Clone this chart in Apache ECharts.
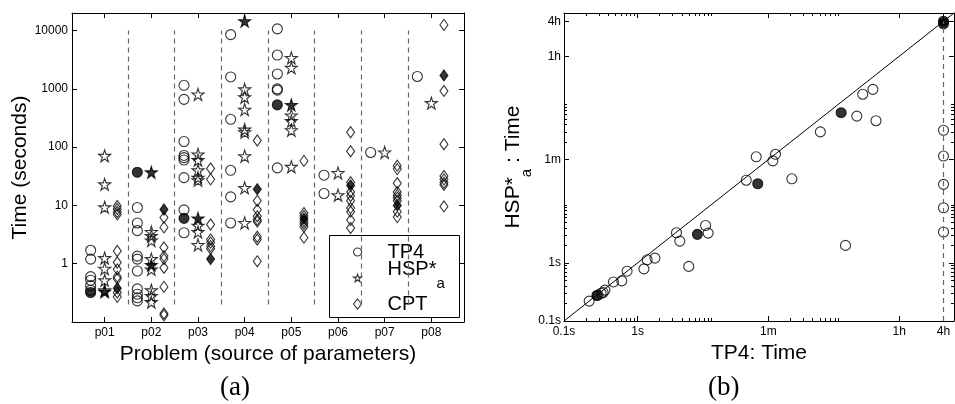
<!DOCTYPE html>
<html>
<head>
<meta charset="utf-8">
<script src="https://cdn.jsdelivr.net/npm/echarts@6/dist/echarts.min.js"></script>
<style>
  html, body { margin: 0; padding: 0; background: #fff; }
  #chart { width: 955px; height: 404px; }
</style>
</head>
<body>
<div id="chart"></div>
<script>
// ---- panel (a): run times per problem, open = all runs, filled = best run ----
const problems = ['p01', 'p02', 'p03', 'p04', 'p05', 'p06', 'p07', 'p08'];

const tp4Open = [
  [1.7, 1.2, 0.6, 0.52, 0.42, 0.35],
  [9.2, 5.0, 3.7, 1.35, 1.2, 0.75, 0.37, 0.3, 0.26, 0.23],
  [1150, 660, 125, 72, 66, 60, 30, 8.4, 3.4],
  [8500, 1600, 300, 40, 14, 5],
  [10700, 3800, 1800, 1000, 950, 44],
  [33, 16],
  [81],
  [1630]
];
const tp4Filled = [[0.32], [37], [6.0], [], [530], [], [], []];

const hspOpen = [
  [71, 23, 9.3, 1.25, 0.82, 0.52, 0.35],
  [3.5, 3.0, 2.5, 1.2, 0.8, 0.35, 0.28, 0.22],
  [800, 75, 60, 40, 30, 27, 4.5, 3.5, 2.1],
  [980, 720, 440, 200, 180, 70, 20, 5],
  [3400, 2300, 350, 280, 195, 46],
  [36, 15],
  [81],
  [570]
];
const hspFilled = [[0.33], [37, 0.95], [6.0], [14500], [530], [], [], []];

const cptOpen = [
  [9.8, 8.7, 7.7, 7.0, 1.65, 1.05, 0.8, 0.6, 0.55, 0.32, 0.27],
  [6.2, 4.2, 1.9, 1.35, 1.2, 0.85, 0.4, 0.14, 0.13],
  [43, 28, 4.7, 2.6, 2.3, 2.0, 1.8],
  [130, 12, 8.4, 6.5, 5.7, 5.3, 2.9, 2.6, 1.1],
  [58, 7.4, 6.6, 5.3, 4.8, 4.3, 2.8],
  [180, 85, 25, 17, 14.5, 12, 9, 7.8, 5.6, 4.1],
  [48, 42, 24, 17, 15, 13.5, 12, 7.8, 6.3],
  [12500, 920, 112, 32, 28, 24.5, 22.5, 9.6]
];
const cptFilled = [[0.38], [8.5], [1.2], [19], [5.9], [22], [10], [1700]];

const leftTickValues = [1, 10, 100, 1000, 10000];
const separatorRange = [0.2, 10000];

// ---- panel (b): TP4 time vs HSP*a time (seconds) ----
const tp4TimeOpen = [0.22, 0.29, 0.32, 0.34, 0.36, 0.47, 0.61, 0.72, 1.22, 1.35, 1.72, 3.38, 3.75, 4.96, 8.4, 9.1,
  30, 41, 69, 75, 125, 305, 670, 955, 1150, 1580, 1740, 14400, 14400, 14400, 14400, 14400];
const hspTimeOpen = [0.22, 0.28, 0.30, 0.31, 0.34, 0.47, 0.49, 0.72, 0.79, 1.13, 1.21, 3.3, 2.37, 0.87, 4.4, 3.26,
  26.5, 67, 57, 74, 28, 180, 2.0, 336, 800, 970, 280, 192, 69, 22.5, 8.9, 3.4];
const tp4TimeFilled = [0.28, 6.5, 43, 585, 14400, 14400];
const hspTimeFilled = [0.275, 3.1, 23, 385, 14400, 13000];

const timeLimit = 14400;
const timeTickValues = [0.1, 1, 60, 3600, 14400];
const timeTickLabels = ['0.1s', '1s', '1m', '1h', '4h'];
const timeMinorTicks = [0.2, 0.3, 0.4, 0.5, 0.6, 0.7, 0.8, 0.9, 2, 3, 4, 5, 6, 7, 8, 9, 10,
  120, 180, 240, 300, 360, 420, 480, 540];

const logMin = 0.1, logMax = 20000;

// ---- helpers ----
const STAR = 'path://M50,0L61.2,34.5L97.6,34.5L68.2,55.9L79.4,90.5L50,69.1L20.6,90.5L31.8,55.9L2.4,34.5L38.8,34.5Z';
const FONT = 'Liberation Sans, Arial, Helvetica, sans-serif';
const INK = '#000';
const DASH = '#666';
const openStyle = { color: 'rgba(0,0,0,0)', borderColor: INK, borderWidth: 1.1 };
const fillStyle = { color: INK, borderColor: INK, borderWidth: 1.1 };
const offsets = { tp4: -0.3, hsp: 0, cpt: 0.27 };

function placeAt (groups, offset) {
  const pts = [];
  groups.forEach((vals, i) => vals.forEach(v => pts.push([i + 1 + offset, v])));
  return pts;
}
function pairs (xs, ys) {
  return xs.map((x, i) => [x, ys[i]]);
}
function isPow10 (v) {
  const l = Math.log10(v);
  return Math.abs(l - Math.round(l)) < 1e-6;
}
function timeLabel (v) {
  const i = timeTickValues.findIndex(t => Math.abs(t - v) / t < 1e-6);
  return i >= 0 ? timeTickLabels[i] : '';
}

const frameLine = { show: true, onZero: false, lineStyle: { color: INK, width: 1 } };
const tickIn = (len, values) => ({ show: true, inside: true, length: len, customValues: values, lineStyle: { color: INK, width: 1 } });
const noLabel = { show: false };
const labelStyle = { color: INK, fontFamily: FONT, fontSize: 12 };
const nameStyle = { color: INK, fontFamily: FONT, fontSize: 21 };
const subRich = {
  m: { fontFamily: FONT, fontSize: 21, color: INK, lineHeight: 22, verticalAlign: 'top' },
  s: { fontFamily: FONT, fontSize: 15, color: INK, lineHeight: 15, verticalAlign: 'top', padding: [17, 0, 0, 0] }
};

// one single-entry legend per method, so each row sits where the reference has it
const legendRich = {
  m: { fontFamily: FONT, fontSize: 20, color: INK, lineHeight: 20, verticalAlign: 'top', padding: [0, 0, 0, 21] },
  s: { fontFamily: FONT, fontSize: 15, color: INK, lineHeight: 38, verticalAlign: 'top', padding: [17, 0, 0, 0] }
};
function legendRow (name, icon, top) {
  return {
    orient: 'vertical', left: 353, top: top, selectedMode: false, padding: 0,
    itemWidth: 8, itemHeight: 10, z: 5,
    data: [{ name: name, icon: icon, itemStyle: openStyle }],
    formatter: n => n === 'HSP*a' ? '{m|HSP*}{s|a}' : '{m|' + n + '}',
    textStyle: { rich: legendRich }
  };
}

const separators = [];
for (let k = 1; k < problems.length; k++) {
  separators.push([{ coord: [k + 0.5, separatorRange[0]] }, { coord: [k + 0.5, separatorRange[1]] }]);
}

const chart = echarts.init(document.getElementById('chart'));

const option = {
  animation: false,
  backgroundColor: '#fff',
  grid: [
    { left: 72, top: 13, width: 392, height: 309 },
    { left: 564, top: 13, width: 390, height: 308 }
  ],
  xAxis: [
    {
      gridIndex: 0, type: 'value', position: 'bottom', min: 0.3, max: 8.7,
      axisLine: frameLine, splitLine: { show: false },
      axisTick: tickIn(5, [1, 2, 3, 4, 5, 6, 7, 8]),
      axisLabel: { ...labelStyle, margin: 5, customValues: [1, 2, 3, 4, 5, 6, 7, 8], formatter: v => problems[Math.round(v) - 1] || '' },
      name: 'Problem (source of parameters)', nameLocation: 'middle', nameGap: 21, nameTextStyle: nameStyle
    },
    {
      gridIndex: 0, type: 'value', position: 'top', min: 0.3, max: 8.7,
      axisLine: frameLine, splitLine: { show: false },
      axisTick: tickIn(5, [1, 2, 3, 4, 5, 6, 7, 8]), axisLabel: noLabel
    },
    {
      gridIndex: 1, type: 'log', position: 'bottom', min: logMin, max: logMax,
      axisLine: frameLine, splitLine: { show: false },
      axisTick: tickIn(5, timeTickValues),
      axisLabel: { ...labelStyle, margin: 5, customValues: timeTickValues, formatter: timeLabel },
      name: 'TP4: Time', nameLocation: 'middle', nameGap: 21, nameTextStyle: nameStyle
    },
    {
      gridIndex: 1, type: 'log', position: 'top', min: logMin, max: logMax,
      axisLine: frameLine, splitLine: { show: false },
      axisTick: tickIn(5, timeTickValues), axisLabel: noLabel
    },
    {
      gridIndex: 1, type: 'log', position: 'bottom', min: logMin, max: logMax,
      axisLine: { show: false }, splitLine: { show: false },
      axisTick: tickIn(3, timeMinorTicks), axisLabel: noLabel
    },
    {
      gridIndex: 1, type: 'log', position: 'top', min: logMin, max: logMax,
      axisLine: { show: false }, splitLine: { show: false },
      axisTick: tickIn(3, timeMinorTicks), axisLabel: noLabel
    }
  ],
  yAxis: [
    {
      gridIndex: 0, type: 'log', position: 'left', min: logMin, max: logMax,
      axisLine: frameLine, splitLine: { show: false },
      axisTick: tickIn(5, leftTickValues),
      axisLabel: { ...labelStyle, margin: 4, customValues: leftTickValues, formatter: v => isPow10(v) ? String(Math.round(v)) : '' },
      name: 'Time (seconds)', nameLocation: 'middle', nameGap: 38, nameRotate: 90, nameTextStyle: nameStyle
    },
    {
      gridIndex: 0, type: 'log', position: 'right', min: logMin, max: logMax,
      axisLine: frameLine, splitLine: { show: false },
      axisTick: tickIn(5, leftTickValues), axisLabel: noLabel
    },
    {
      gridIndex: 1, type: 'log', position: 'left', min: logMin, max: logMax,
      axisLine: frameLine, splitLine: { show: false },
      axisTick: tickIn(5, timeTickValues),
      axisLabel: { ...labelStyle, margin: 3, customValues: timeTickValues, formatter: timeLabel },
      name: '{m|HSP*}{s|a}{m| : Time}', nameLocation: 'middle', nameGap: 31, nameRotate: 90,
      nameTextStyle: { ...nameStyle, rich: subRich }
    },
    {
      gridIndex: 1, type: 'log', position: 'right', min: logMin, max: logMax,
      axisLine: frameLine, splitLine: { show: false },
      axisTick: tickIn(5, timeTickValues), axisLabel: noLabel
    },
    {
      gridIndex: 1, type: 'log', position: 'left', min: logMin, max: logMax,
      axisLine: { show: false }, splitLine: { show: false },
      axisTick: tickIn(3, timeMinorTicks), axisLabel: noLabel
    },
    {
      gridIndex: 1, type: 'log', position: 'right', min: logMin, max: logMax,
      axisLine: { show: false }, splitLine: { show: false },
      axisTick: tickIn(3, timeMinorTicks), axisLabel: noLabel
    }
  ],
  legend: [
    legendRow('TP4', 'circle', 242),
    legendRow('HSP*a', STAR, 259),
    legendRow('CPT', 'diamond', 294)
  ],
  graphic: [
    {
      type: 'rect', z: 4, shape: { x: 329.5, y: 235.5, width: 130, height: 82 },
      style: { fill: '#fff', stroke: INK, lineWidth: 1 }
    },
    { type: 'text', left: 236 - 16, top: 374, style: { text: '(a)', fontFamily: 'Liberation Serif, serif', fontSize: 27, fill: INK } },
    { type: 'text', left: 724 - 16, top: 374, style: { text: '(b)', fontFamily: 'Liberation Serif, serif', fontSize: 27, fill: INK } }
  ],
  series: [
    {
      name: 'TP4', type: 'scatter', xAxisIndex: 0, yAxisIndex: 0, symbol: 'circle', symbolSize: 10,
      itemStyle: openStyle, data: placeAt(tp4Open, offsets.tp4),
      markLine: {
        silent: true, symbol: ['none', 'none'], label: { show: false },
        lineStyle: { type: [5, 4], color: DASH, width: 1.2 }, data: separators
      }
    },
    { name: 'TP4', type: 'scatter', xAxisIndex: 0, yAxisIndex: 0, symbol: 'circle', symbolSize: 10, itemStyle: fillStyle, data: placeAt(tp4Filled, offsets.tp4) },
    { name: 'HSP*a', type: 'scatter', xAxisIndex: 0, yAxisIndex: 0, symbol: STAR, symbolSize: 12, itemStyle: openStyle, data: placeAt(hspOpen, offsets.hsp) },
    { name: 'HSP*a', type: 'scatter', xAxisIndex: 0, yAxisIndex: 0, symbol: STAR, symbolSize: 12, itemStyle: fillStyle, data: placeAt(hspFilled, offsets.hsp) },
    { name: 'CPT', type: 'scatter', xAxisIndex: 0, yAxisIndex: 0, symbol: 'diamond', symbolSize: [8, 11], itemStyle: openStyle, data: placeAt(cptOpen, offsets.cpt) },
    { name: 'CPT', type: 'scatter', xAxisIndex: 0, yAxisIndex: 0, symbol: 'diamond', symbolSize: [8, 11], itemStyle: fillStyle, data: placeAt(cptFilled, offsets.cpt) },
    {
      name: 'runs', type: 'scatter', xAxisIndex: 2, yAxisIndex: 2, symbol: 'circle', symbolSize: 10,
      itemStyle: openStyle, data: pairs(tp4TimeOpen, hspTimeOpen),
      markLine: {
        silent: true, symbol: ['none', 'none'], label: { show: false },
        data: [
          [{ coord: [logMin, logMin], lineStyle: { type: 'solid', color: INK, width: 1 } }, { coord: [logMax, logMax] }],
          [{ coord: [timeLimit, logMin], lineStyle: { type: [5, 4], color: DASH, width: 1.2 } }, { coord: [timeLimit, timeLimit] }]
        ]
      }
    },
    { name: 'runsBest', type: 'scatter', xAxisIndex: 2, yAxisIndex: 2, symbol: 'circle', symbolSize: 10, itemStyle: fillStyle, data: pairs(tp4TimeFilled, hspTimeFilled) }
  ]
};

chart.setOption(option);
</script>
</body>
</html>
